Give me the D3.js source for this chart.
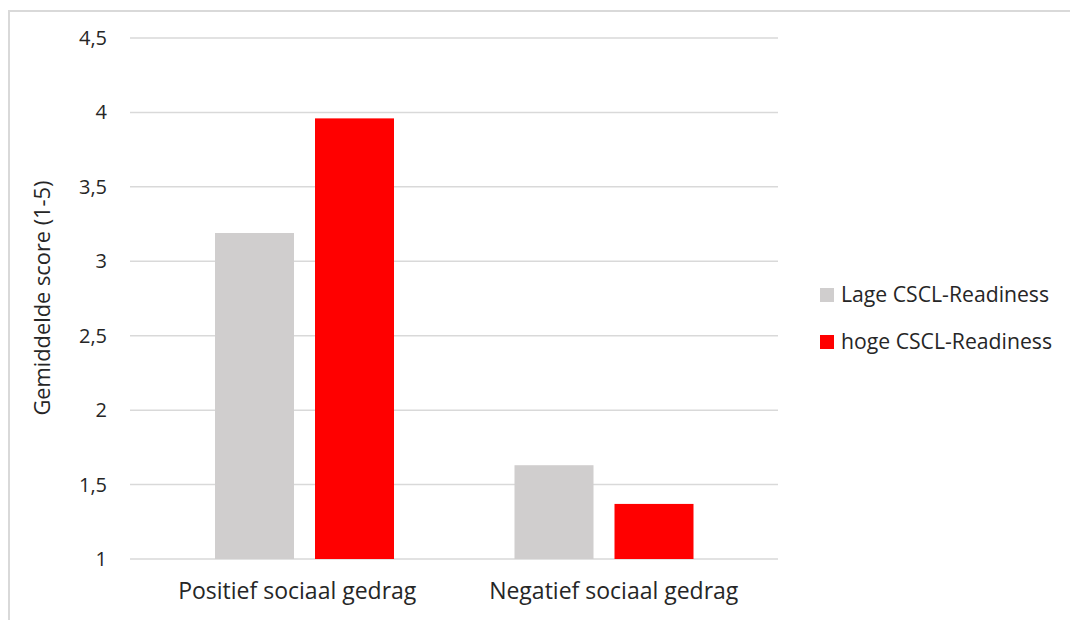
<!DOCTYPE html>
<html lang="nl">
    <head>
        <meta charset="utf-8">
        <title>Gemiddelde score</title>
        <script type="text/javascript" src="https://cdn.jsdelivr.net/npm/d3@7"></script>
        <style>
            body { margin: 0; background: #fff; }
            text { font-family: "Open Sans", Lato, sans-serif; fill: #262626; }
        </style>
    </head>
    <body>
        <script type="text/javascript">
            // data
            var categories = ["Positief sociaal gedrag", "Negatief sociaal gedrag"];
            var seriesNames = ["Lage CSCL-Readiness", "hoge CSCL-Readiness"];
            var lage = [3.19, 1.63];
            var hoge = [3.96, 1.37];
            var yTicks = [1, 1.5, 2, 2.5, 3, 3.5, 4, 4.5];
            var colors = ["#d0cece", "#ff0000"];

            var w = 1070, h = 620;

            var svg = d3.select("body")
                        .append("svg")
                        .attr("width", w)
                        .attr("height", h);

            // frame
            svg.append("path")
                .attr("d", "M9,620 V11 H1070")
                .attr("fill", "none")
                .attr("stroke", "#d9d9d9")
                .attr("stroke-width", 2);

            var yScale = d3.scaleLinear()
                            .domain([1, 4.5])
                            .range([559, 38]);

            var xScale = d3.scaleBand()
                            .domain(categories)
                            .range([154.5, 753.5]);

            var xSub = d3.scaleBand()
                            .domain([0, 1])
                            .range([60.5, 239.5])
                            .paddingInner(0.21);

            // gridlines
            svg.selectAll("line.grid")
                .data(yTicks)
                .enter()
                .append("line")
                .attr("class", "grid")
                .attr("x1", 130)
                .attr("x2", 778)
                .attr("y1", function(d) { return yScale(d); })
                .attr("y2", function(d) { return yScale(d); })
                .attr("stroke", "#d9d9d9")
                .attr("stroke-width", 1.5);

            // y tick labels
            svg.selectAll("text.ytick")
                .data(yTicks)
                .enter()
                .append("text")
                .attr("class", "ytick")
                .attr("x", 107)
                .attr("y", function(d) { return yScale(d); })
                .attr("dy", "0.35em")
                .attr("text-anchor", "end")
                .attr("font-size", "20px")
                .text(function(d) { return String(d).replace(".", ","); });

            // bars
            var rows = categories.map(function(c, i) {
                return { cat: c, values: [lage[i], hoge[i]] };
            });

            var groups = svg.selectAll("g.group")
                .data(rows)
                .enter()
                .append("g")
                .attr("class", "group")
                .attr("transform", function(d) { return "translate(" + xScale(d.cat) + ",0)"; });

            groups.selectAll("rect")
                .data(function(d) { return d.values; })
                .enter()
                .append("rect")
                .attr("x", function(d, i) { return xSub(i); })
                .attr("width", xSub.bandwidth())
                .attr("y", function(d) { return yScale(d); })
                .attr("height", function(d) { return yScale(1) - yScale(d); })
                .attr("fill", function(d, i) { return colors[i]; });

            // category labels
            var labelOffset = [-7, 10];
            svg.selectAll("text.xlab")
                .data(categories)
                .enter()
                .append("text")
                .attr("class", "xlab")
                .attr("x", function(d, i) { return xScale(d) + xScale.bandwidth() / 2 + labelOffset[i]; })
                .attr("y", 599)
                .attr("text-anchor", "middle")
                .attr("font-size", "23px")
                .text(function(d) { return d; });

            // y axis title
            svg.append("text")
                .attr("transform", "translate(50,298) rotate(-90)")
                .attr("text-anchor", "middle")
                .attr("font-size", "21.8px")
                .text("Gemiddelde score (1-5)");

            // legend
            var legend = svg.selectAll("g.legend")
                .data(seriesNames)
                .enter()
                .append("g")
                .attr("class", "legend")
                .attr("transform", function(d, i) { return "translate(820," + (288 + i * 47) + ")"; });

            legend.append("rect")
                .attr("width", 14)
                .attr("height", 14)
                .attr("fill", function(d, i) { return colors[i]; });

            legend.append("text")
                .attr("x", 21)
                .attr("y", 7)
                .attr("dy", "0.35em")
                .attr("font-size", "21.2px")
                .text(function(d) { return d; });
        </script>
    </body>
</html>
